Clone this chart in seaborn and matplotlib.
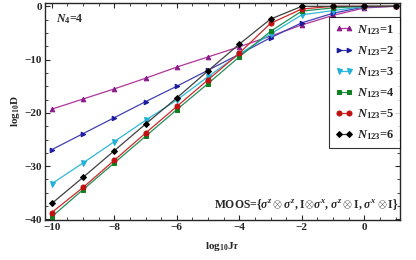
import numpy as np
import pandas as pd
import matplotlib
matplotlib.use("Agg")
import matplotlib.pyplot as plt
import seaborn as sns
from matplotlib.ticker import MultipleLocator

# ---- data ----
log_jtau = [-10, -9, -8, -7, -6, -5, -4, -3, -2, -1, 0, 1]
n123_1 = [-19.3, -17.4, -15.5, -13.5, -11.4, -9.5, -7.6, -5.6, -3.5, -1.7, -0.3, 0.0]
n123_2 = [-26.9, -23.9, -20.9, -17.9, -15.0, -12.0, -9.0, -5.9, -3.1, -1.3, -0.1, 0.0]
n123_3 = [-33.3, -29.4, -25.4, -21.4, -17.6, -13.2, -9.0, -5.2, -1.6, -0.8, -0.05, 0.0]
n123_4 = [-39.5, -34.4, -29.4, -24.4, -19.4, -14.5, -9.5, -4.7, -0.9, -0.3, 0.0, 0.0]
n123_5 = [-38.7, -34.0, -28.9, -23.8, -18.8, -13.8, -8.8, -3.2, -0.5, 0.0, 0.0, 0.0]
n123_6 = [-37.0, -32.1, -27.1, -22.1, -17.2, -12.1, -7.1, -2.4, 0.0, 0.0, 0.0, 0.0]
series_labels = ["1", "2", "3", "4", "5", "6"]

sns.set_style("ticks")
plt.rcParams['font.family'] = ['Liberation Serif', 'DejaVu Serif']
plt.rcParams['font.weight'] = 'bold'
plt.rcParams['mathtext.fontset'] = 'custom'
plt.rcParams['mathtext.rm'] = 'Liberation Serif:bold'
plt.rcParams['mathtext.it'] = 'Liberation Serif:italic:bold'
plt.rcParams['mathtext.bf'] = 'Liberation Serif:bold'

fig = plt.figure(figsize=(4.16, 2.6), dpi=100)
ax = fig.add_axes([0.108, 0.154, 0.854, 0.834])

all_series = [n123_1, n123_2, n123_3, n123_4, n123_5, n123_6]
line_colors = ["#B0359C", "#4040B0", "#30B8D8", "#20905A", "#D02828", "#404040"]
marker_colors = ["#8A1A8A", "#1A1AA0", "#20B0D8", "#108020", "#C01010", "#000000"]
markers = ["^", ">", "v", "s", "o", "D"]
msizes = [3.3, 3.3, 3.6, 3.2, 3.6, 3.0]

for vals, lab, lc, mc, mk, ms in zip(all_series, series_labels, line_colors,
                                     marker_colors, markers, msizes):
    df = pd.DataFrame({"x": log_jtau, "y": vals})
    sns.lineplot(data=df, x="x", y="y", ax=ax, color=lc, lw=0.9,
                 marker=mk, markersize=ms, markerfacecolor=mc,
                 markeredgecolor=mc, label=r"$N_{123}$=" + lab)

ax.set_xlim(-10.22, 1.15)
ax.set_ylim(-40.1, 0.6)
ax.xaxis.set_major_locator(MultipleLocator(2))
ax.xaxis.set_minor_locator(MultipleLocator(0.5))
ax.yaxis.set_major_locator(MultipleLocator(10))
ax.yaxis.set_minor_locator(MultipleLocator(2.5))
ax.tick_params(which="both", direction="in", top=True, right=True)
ax.tick_params(which="major", length=3.5, width=0.8, labelsize=8, pad=2)
ax.tick_params(which="minor", length=2, width=0.6)
for s in ax.spines.values():
    s.set_linewidth(1.0)
ax.set_xticklabels([f"−{abs(int(t))}" if t < 0 else f"{int(t)}" for t in ax.get_xticks()])
ax.set_yticklabels([f"−{abs(int(t))}" if t < 0 else f"{int(t)}" for t in ax.get_yticks()])

ax.set_xlabel(r"$\mathrm{log_{10}J}\tau$", fontsize=8, labelpad=6)
ax.set_ylabel(r"$\mathrm{log_{10}D}$", fontsize=8, labelpad=2)

ax.text(0.03, 0.96, r"$N_4$=4", transform=ax.transAxes, fontsize=8.5,
        ha="left", va="top")
ax.text(0.995, 0.035,
        r"MOOS={$\sigma^z\otimes\sigma^z$, I$\otimes\sigma^x$, $\sigma^z\otimes$I, $\sigma^x\otimes$I}",
        transform=ax.transAxes, fontsize=8.4, ha="right", va="bottom")

leg = ax.legend(loc="upper right", bbox_to_anchor=(1.0, 0.935), numpoints=2,
                frameon=True, fancybox=False, edgecolor="black",
                fontsize=9, labelspacing=0.58, handlelength=1.45,
                handletextpad=0.3, borderpad=0.45, borderaxespad=0.0)
leg.get_frame().set_linewidth(0.8)

fig.savefig("out.png", dpi=100)
